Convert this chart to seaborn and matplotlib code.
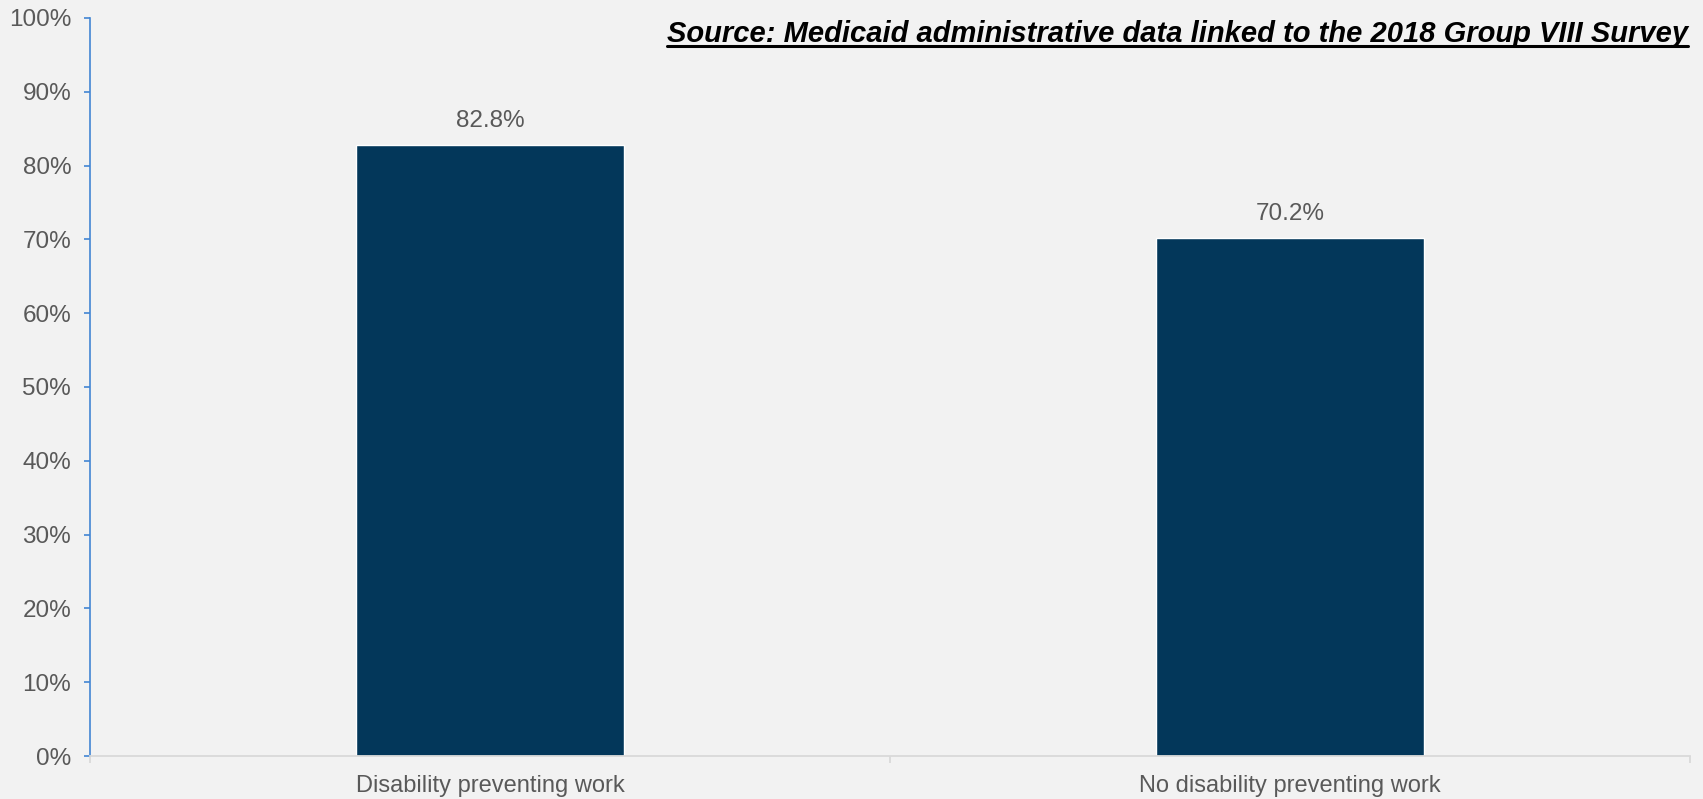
import matplotlib
matplotlib.use("Agg")
import matplotlib.pyplot as plt
import seaborn as sns
import pandas as pd
from matplotlib.ticker import FixedLocator, PercentFormatter

categories = ["Disability preventing work", "No disability preventing work"]
values = [82.8, 70.2]
y_ticks = list(range(0, 101, 10))
source_text = "Source: Medicaid administrative data linked to the 2018 Group VIII Survey"

sns.set_theme(style="white")
plt.rcParams["font.family"] = ["Liberation Sans", "DejaVu Sans"]

BG = "#F2F2F2"
BAR = "#03375A"
TEXT = "#595959"

df = pd.DataFrame({"category": categories, "value": values})

fig = plt.figure(figsize=(17.03, 7.99), dpi=100, facecolor=BG)
ax = fig.add_axes([0.0528, 0.0538, 0.9396, 0.9237], facecolor=BG)

sns.barplot(data=df, x="category", y="value", color=BAR, width=0.335,
            saturation=1, ax=ax)

ax.set_xlim(-0.5, 1.5)
ax.set_ylim(0, 100)
ax.set_xlabel("")
ax.set_ylabel("")

for spine in ["top", "right"]:
    ax.spines[spine].set_visible(False)
ax.spines["left"].set_color("#4285D3")
ax.spines["left"].set_linewidth(1.2)
ax.spines["bottom"].set_color("#D9D9D9")
ax.spines["bottom"].set_linewidth(1.3)

ax.yaxis.set_major_locator(FixedLocator(y_ticks))
ax.yaxis.set_major_formatter(PercentFormatter(decimals=0))
ax.tick_params(axis="y", which="major", left=True, length=4.5, width=1.2,
               color="#4285D3", labelsize=17.5, labelcolor=TEXT, pad=9)

ax.xaxis.set_minor_locator(FixedLocator([-0.5, 0.5, 1.5]))
ax.tick_params(axis="x", which="major", bottom=False, labelsize=17,
               labelcolor=TEXT, pad=8)
ax.tick_params(axis="x", which="minor", bottom=True, length=5, width=1.3,
               color="#D9D9D9")

for container in ax.containers:
    ax.bar_label(container, labels=[f"{v:.1f}%" for v in values],
                 padding=9, fontsize=17.5, color=TEXT)

ax.text(0.999, 0.997, source_text, transform=ax.transAxes, ha="right", va="top",
        fontsize=21, fontweight="bold", fontstyle="italic", color="black")
# underline beneath the source note
fig.canvas.draw()
txt = ax.texts[-1]
bb = txt.get_window_extent(fig.canvas.get_renderer())
inv = fig.transFigure.inverted()
(x0, y0), (x1, _) = inv.transform([(bb.x0, bb.y0), (bb.x1, bb.y1)])
fig.add_artist(plt.Line2D([x0, x1], [y0 + 0.003, y0 + 0.003],
                          transform=fig.transFigure, color="black", lw=2.2))

fig.savefig("out.png", dpi=100, facecolor=BG)
